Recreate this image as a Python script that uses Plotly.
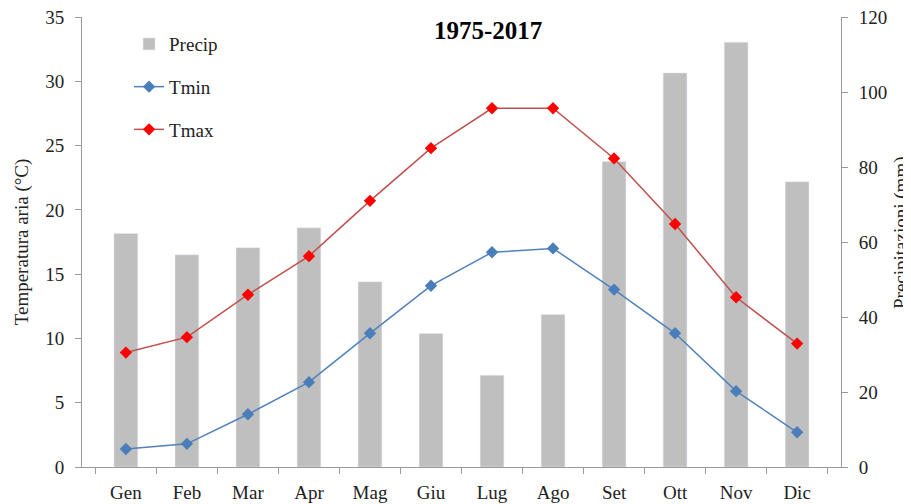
import plotly.graph_objects as go

months = ["Gen", "Feb", "Mar", "Apr", "Mag", "Giu", "Lug", "Ago", "Set", "Ott", "Nov", "Dic"]
precip = [62.3, 56.6, 58.5, 63.8, 49.4, 35.6, 24.5, 40.7, 81.5, 105.1, 113.3, 76.1]
tmin = [1.4, 1.8, 4.1, 6.6, 10.4, 14.1, 16.7, 17.0, 13.8, 10.4, 5.9, 2.7]
tmax = [8.9, 10.1, 13.4, 16.4, 20.7, 24.8, 27.9, 27.9, 24.0, 18.9, 13.2, 9.6]

FONT = "Liberation Serif"
AXC = "#9a9a9a"
TXT = "#222222"

fig = go.Figure()
fig.add_trace(go.Bar(x=months, y=precip, name="Precip", marker=dict(color="#bfbfbf"),
                     width=0.39, yaxis="y", legendgroup="a"))
fig.add_trace(go.Scatter(x=months, y=tmin, name="Tmin", mode="lines+markers", yaxis="y2",
                         line=dict(color="#4f81bd", width=1.5),
                         marker=dict(symbol="diamond", size=9.5, color="#4a7ebb"), legendgroup="b"))
fig.add_trace(go.Scatter(x=months, y=tmax, name="Tmax", mode="lines+markers", yaxis="y2",
                         line=dict(color="#c0504d", width=1.5),
                         marker=dict(symbol="diamond", size=9.5, color="#ff0000"), legendgroup="c"))

# page body has an 8px margin, so the figure is sized/offset to compensate
W, H = 903, 496
ML, MR = 74, 70
plot_w = W - ML - MR
right_title_x = (893 - ML) / plot_w

fig.update_layout(
    width=W, height=H,
    margin=dict(l=ML, r=MR, t=9, b=37),
    paper_bgcolor="white", plot_bgcolor="white",
    font=dict(family=FONT, size=19, color=TXT),
    showlegend=True,
    legend=dict(x=0.062, y=0.982, xanchor="left", yanchor="top", bgcolor="rgba(0,0,0,0)",
                traceorder="grouped", tracegroupgap=15, font=dict(size=19, family=FONT)),
    xaxis=dict(type="category", showline=True, linecolor=AXC, linewidth=1,
               ticks="outside", tickson="boundaries", ticklen=6, tickcolor=AXC,
               showgrid=False, tickfont=dict(size=19), automargin=False, ticklabelstandoff=8),
    yaxis=dict(range=[0, 120], dtick=20, side="right", showline=True, linecolor=AXC,
               ticks="outside", ticklen=6, tickcolor=AXC, showgrid=False, zeroline=False,
               tickfont=dict(size=19), automargin=False, ticklabelstandoff=7,
               ticklabeloverflow="allow"),
    yaxis2=dict(range=[0, 35], dtick=5, side="left", overlaying="y", showline=True,
                linecolor=AXC, ticks="outside", ticklen=6, tickcolor=AXC, showgrid=False,
                zeroline=False, title=dict(text="Temperatura aria (°C)", font=dict(size=19), standoff=11),
                tickfont=dict(size=19), automargin=False, ticklabelstandoff=7,
                ticklabeloverflow="allow"),
    annotations=[
        dict(text="<b>1975-2017</b>", x=0.535, y=0.969, xref="paper", yref="paper",
             showarrow=False, font=dict(size=25, family=FONT, color="#000000"),
             xanchor="center", yanchor="middle"),
        dict(text="Precipitazioni (mm)", x=right_title_x, y=0.52, xref="paper", yref="paper",
             textangle=-90, showarrow=False, font=dict(size=19, family=FONT, color=TXT),
             xanchor="center", yanchor="middle"),
    ],
)

fig.write_html("out.html")
